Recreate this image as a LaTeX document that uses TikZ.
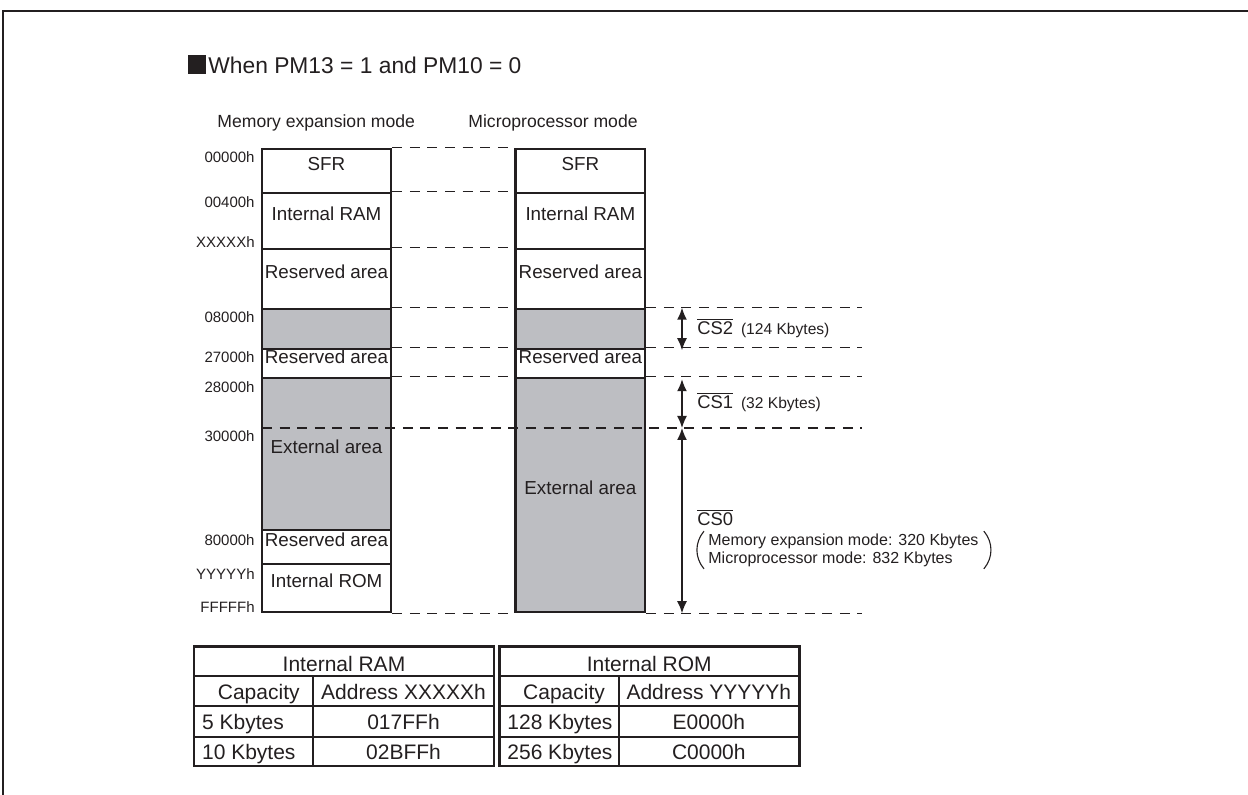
\documentclass[tikz,border=0pt]{standalone}
\usepackage{fontspec}
\setmainfont{Liberation Sans}
\usepackage{tikz}
\usetikzlibrary{arrows.meta, positioning, calc, fit}
\definecolor{inkgray}{RGB}{35, 31, 32}
\definecolor{extgray}{RGB}{189, 190, 194}

\begin{document}
\begin{tikzpicture}[
        x=0.5pt, y=-0.5pt,
        region/.style={draw=inkgray, line width=1.25pt, inner sep=0pt, text=inkgray, font=\fontsize{9.4}{11}\selectfont},
        addr/.style={anchor=east, inner sep=0pt, text=inkgray, font=\fontsize{7.5}{8}\selectfont},
        head/.style={anchor=base west, inner sep=0pt, text=inkgray, font=\fontsize{8.8}{10}\selectfont},
        guide/.style={draw=inkgray, line width=0.65pt, dash pattern=on 5pt off 3.8pt},
        csarrow/.style={draw=inkgray, line width=0.75pt, >={Latex[length=6pt, width=5pt]}, <->},
        cslabel/.style={anchor=base west, inner sep=0pt, text=inkgray, font=\fontsize{9.2}{11}\selectfont},
        cssize/.style={inner sep=0pt, text=inkgray, font=\fontsize{7.8}{9}\selectfont},
        paren/.style={draw=inkgray, line width=0.55pt},
        cell/.style={anchor=base, inner sep=0pt, text=inkgray, font=\fontsize{10.5}{12}\selectfont},
        tabline/.style={draw=inkgray, line width=0.9pt},
    ]
        \useasboundingbox (0,0) rectangle (1248,795);
        \draw[inkgray, line width=1pt] (3,795) -- (3,11) -- (1248,11);

        % Title and mode headings
        \node[fill=inkgray, minimum width=8.9pt, minimum height=9.5pt, inner sep=0pt, anchor=north west] (mark) at (188,55) {};
        \node[anchor=base west, inner sep=0pt, text=inkgray, font=\fontsize{11.4}{13}\selectfont] (title) at (208,74) {When PM13 = 1 and PM10 = 0};
        \node[head] (memhead) at (217,128) {Memory expansion mode};
        \node[head] (michead) at (468,128) {Microprocessor mode};

        % Memory expansion mode map
        \foreach \t/\b/\fc/\txt [count=\i] in {149/193/white/SFR, 193/249/white/Internal RAM, 249/309/white/Reserved area, 309/349/extgray/{}, 349/378/white/Reserved area, 378/530/extgray/External area, 530/564/white/Reserved area, 564/612/white/Internal ROM} {
            \node[region, fill=\fc, fit={(262,\t) (391,\b)}] (mem\i) {\txt};
        }

        % Microprocessor mode map
        \foreach \t/\b/\fc/\txt [count=\i] in {149/193/white/SFR, 193/249/white/Internal RAM, 249/309/white/Reserved area, 309/349/extgray/{}, 349/378/white/Reserved area, 378/612/extgray/External area} {
            \node[region, fill=\fc, fit={(515.7,\t) (645,\b)}] (mic\i) {\txt};
        }

        % Addresses
        \foreach \y/\a [count=\i] in {156.7/00000h, 202/00400h, 241.7/XXXXXh, 316.7/08000h, 356.7/27000h, 386.7/28000h, 436/30000h, 540/80000h, 574/YYYYYh, 606.7/FFFFFh} {
            \node[addr] (ad\i) at (255,\y) {\a};
        }

        % Dashed boundaries
        \coordinate (rim) at (862,0);
        \coordinate (cs) at (682,0);
        \coordinate (k30) at (262,428);
        \foreach \i in {1,...,6} {
            \draw[guide] (mem\i.north east) -- (mic\i.north west);
        }
        \draw[guide] (mem8.south east) -- (mic6.south west);
        \foreach \i in {4,5,6} {
            \draw[guide] (mic\i.north east) -- (mic\i.north east -| rim);
        }
        \draw[guide] (mic6.south east) -- (mic6.south east -| rim);
        \draw[guide] (k30) -- (k30 -| rim);

        % Chip select areas
        \draw[csarrow] (mic4.north -| cs) -- (mic4.south -| cs);
        \draw[csarrow] (mic5.south -| cs) -- (k30 -| cs);
        \draw[csarrow] (k30 -| cs) -- (mic6.south -| cs);

        \node[cslabel] (cs2) at (697,335) {$\overline{\mbox{CS2}}$};
        \node[cssize, right=3.5pt of cs2.base east, anchor=base west] (cs2kb) {(124 Kbytes)};
        \node[cslabel] (cs1) at (697,409) {$\overline{\mbox{CS1}}$};
        \node[cssize, right=3.5pt of cs1.base east, anchor=base west] (cs1kb) {(32 Kbytes)};
        \node[cslabel] (cs0) at (697,526) {$\overline{\mbox{CS0}}$};
        \node[cssize, anchor=west, align=left, font=\fontsize{8}{9}\selectfont] (cs0kb) at (708,550) {Memory expansion mode: 320 Kbytes\\Microprocessor mode: 832 Kbytes};
        \draw[paren] ([xshift=-2pt, yshift=1pt]cs0kb.north west) to[bend right=40] ([xshift=-2pt, yshift=-1pt]cs0kb.south west);
        \draw[paren] ([xshift=2.5pt, yshift=1pt]cs0kb.north east) to[bend left=40] ([xshift=2.5pt, yshift=-1pt]cs0kb.south east);

        % Internal RAM / ROM tables
        \foreach \tx/\ttl/\hdr/\ca/\aa/\cb/\ab [count=\j] in {194/Internal RAM/Address XXXXXh/5 Kbytes/017FFh/10 Kbytes/02BFFh, 499.3/Internal ROM/Address YYYYYh/128 Kbytes/E0000h/256 Kbytes/C0000h} {
            \foreach \ry in {676,705.7,736.7} {
                \draw[tabline] (\tx,\ry) -- ++(300,0);
            }
            \draw[tabline] (\tx+119.3,676) -- (\tx+119.3,766);
            \draw[inkgray, line width=1.25pt] (\tx,646.7) rectangle ++(300,119.3);
            \node[cell] (tt\j) at (\tx+150,671.5) {\ttl};
            \node[cell, anchor=base east] (tc\j) at (\tx+106,699.5) {Capacity};
            \node[cell] (th\j) at (\tx+209.5,699.5) {\hdr};
            \node[cell, anchor=base west] (ca\j) at (\tx+7.7,730) {\ca};
            \node[cell] (aa\j) at (\tx+209.5,730) {\aa};
            \node[cell, anchor=base west] (cb\j) at (\tx+7.7,760) {\cb};
            \node[cell] (ab\j) at (\tx+209.5,760) {\ab};
        }
    \end{tikzpicture}
\end{document}
